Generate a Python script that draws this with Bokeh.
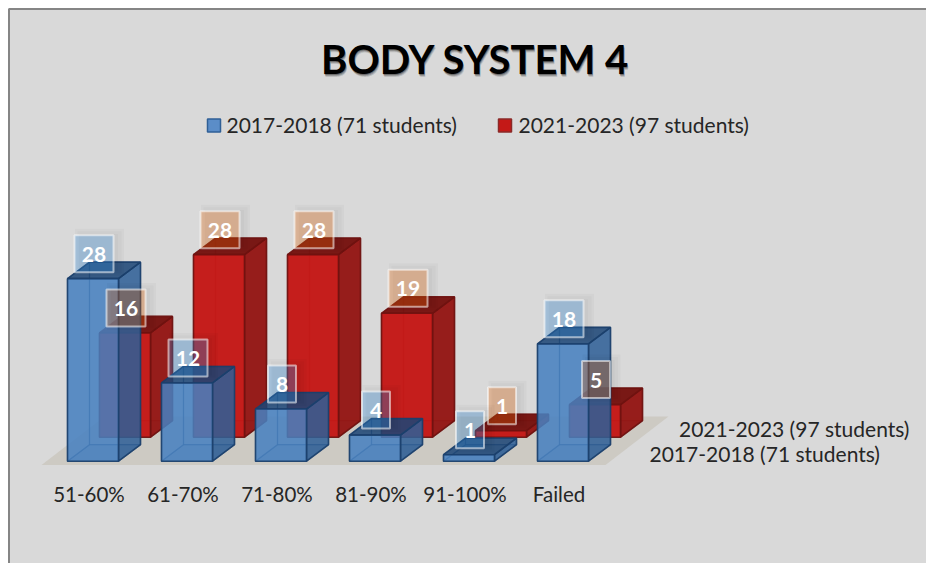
from bokeh.plotting import figure
from bokeh.embed import file_html
from bokeh.resources import INLINE
from bokeh.core.properties import value

# ---------- data ----------
title_text = "BODY SYSTEM 4"
categories = ["51-60%", "61-70%", "71-80%", "81-90%", "91-100%", "Failed"]
series_names = ["2017-2018 (71 students)", "2021-2023 (97 students)"]
values_2017 = [28, 12, 8, 4, 1, 18]
values_2021 = [16, 28, 28, 19, 1, 5]

# ---------- layout (page px) ----------
W, H = 926, 563
PAGE = 0
FRAME = 8
PX_PER_CAT = 94.0
PX_PER_VAL = 6.52
ORIGIN_X = 67.0       # left of first front-row bar
ORIGIN_Y = 460.7      # baseline of the front row
BAR_W = 51.0
DEPTH_X, DEPTH_Y = 22.0, 16.5
ROW_X, ROW_Y = 32.0, 24.0
FONT = "Lato"
INK = "#262626"

x0 = (PAGE - ORIGIN_X) / PX_PER_CAT
x1 = (PAGE + W - ORIGIN_X) / PX_PER_CAT
y0 = (ORIGIN_Y - (PAGE + H)) / PX_PER_VAL
y1 = (ORIGIN_Y - PAGE) / PX_PER_VAL

p = figure(width=W, height=H, x_range=(x0, x1), y_range=(y0, y1),
           output_backend="svg", toolbar_location=None, min_border=0,
           background_fill_color="#ffffff", border_fill_color="#ffffff",
           outline_line_color=None)
p.axis.visible = False
p.grid.visible = False


def sx(px):
    return (px - ORIGIN_X) / PX_PER_CAT


def sy(py):
    return (ORIGIN_Y - py) / PX_PER_VAL


dx = lambda px: px / PX_PER_CAT
dy = lambda px: px / PX_PER_VAL

# chart area, with frame on its top and left edges (the rest runs off the picture)
p.quad(left=[sx(FRAME)], right=[x1], top=[sy(FRAME)], bottom=[y0],
       fill_color="#d9d9d9", line_color=None)
p.line([sx(FRAME + 0.5)] * 2 + [x1], [y0, sy(FRAME + 0.5), sy(FRAME + 0.5)],
       line_color="#858585", line_width=2)

# floor
fl = sx(41)
fr = sx(605)
fb = sy(464.6)
ft = sy(416)
p.patch([fl, fr, fr + dx(63), fl + dx(63)], [fb, fb, ft, ft],
        fill_color="#cdcac3", line_color=None)


def box(i, v, row):
    """Return the faces of one 3-D bar as (xs, ys) in data units."""
    l = i + dx(ROW_X) * row
    r = l + dx(BAR_W)
    b = dy(ROW_Y) * row
    t = b + v
    ox, oy = dx(DEPTH_X), dy(DEPTH_Y)
    return dict(
        back=([l + ox, r + ox, r + ox, l + ox], [b + oy, b + oy, t + oy, t + oy]),
        left=([l, l + ox, l + ox, l], [b, b + oy, t + oy, t]),
        bottom=([l, r, r + ox, l + ox], [b, b, b + oy, b + oy]),
        right=([r, r + ox, r + ox, r], [b, b + oy, t + oy, t]),
        top=([l, r, r + ox, l + ox], [t, t, t + oy, t + oy]),
        front=([l, r, r, l], [b, b, t, t]),
    )


def draw_row(vals, row, front, side, top, edge, alpha, inner):
    for i, v in enumerate(vals):
        f = box(i, v, row)
        for name in ("back", "left"):
            p.patch(*f[name], fill_color=front, fill_alpha=inner,
                    line_color=edge, line_alpha=0.5, line_width=1.2)
        p.patch(*f["bottom"], fill_color=top, fill_alpha=inner + 0.1,
                line_color=edge, line_alpha=0.5, line_width=1.2)
        p.patch(*f["right"], fill_color=side, fill_alpha=alpha,
                line_color=edge, line_alpha=0.9, line_width=1.6)
        p.patch(*f["top"], fill_color=top, fill_alpha=alpha,
                line_color=edge, line_alpha=0.9, line_width=1.6)
        p.patch(*f["front"], fill_color=front, fill_alpha=alpha,
                line_color=edge, line_alpha=0.9, line_width=1.6)


draw_row(values_2021, 1, "#c41917", "#941816", "#761310", "#6e1210", 0.97, 0.15)
draw_row(values_2017, 0, "#4680c0", "#2f5f96", "#1c4576", "#1b3f6c", 0.85, 0.1)


def data_labels(vals, row, fill):
    for i, v in enumerate(vals):
        cx = i + dx(ROW_X) * row + dx(27)
        cy = dy(ROW_Y) * row + v + dy(25)
        w = 39 if v >= 10 else 28
        for grow, off in ((10, 5), (5, 5), (0, 4)):
            p.rect([cx + dx(off)], [cy + dy(off * 0.3)], width=dx(w + grow),
                   height=dy(37 + grow), fill_color="#000000", fill_alpha=0.025,
                   line_color=None)
        p.rect([cx - dx(0.5)], [cy], width=dx(w), height=dy(37), fill_color=fill,
               fill_alpha=0.3, line_color="#ffffff", line_alpha=0.55, line_width=2)
        p.text([cx - dx(0.5)], [cy - dy(0.5)], text=[str(v)], text_color="#ffffff",
               text_font=value(FONT), text_font_style="bold", text_font_size="21px",
               text_align="center", text_baseline="middle")


data_labels(values_2021, 1, "#f06b0a")
data_labels(values_2017, 0, "#3593e3")

# category labels
for i, c in enumerate(categories):
    p.text([i + dx(21.5)], [sy(493.5)], text=[c], text_color=INK, text_font=value(FONT),
           text_font_size="20.5px", text_align="center", text_baseline="middle")

# series (depth axis) labels
p.text([sx(649)], [sy(452.5)], text=[series_names[0]], text_color=INK, text_font=value(FONT),
       text_font_size="21px", text_align="left", text_baseline="middle")
p.text([sx(678.5)], [sy(427.5)], text=[series_names[1]], text_color=INK, text_font=value(FONT),
       text_font_size="21px", text_align="left", text_baseline="middle")

# title with soft shadow
for off, a in ((3, 0.12), (2, 0.2), (1, 0.3)):
    p.text([sx(475 + off * 0.4)], [sy(58.5 + off)], text=[title_text], text_color="#000000",
           text_alpha=a, text_font=value(FONT), text_font_style="bold",
           text_font_size="40px", text_align="center", text_baseline="middle")
p.text([sx(475)], [sy(58.5)], text=[title_text], text_color="#000000",
       text_font=value(FONT), text_font_style="bold", text_font_size="40px",
       text_align="center", text_baseline="middle")

# legend
for name, fill, edge, sw, tx in ((series_names[0], "#5b8dc8", "#2f5f96", 213.5, 226),
                                 (series_names[1], "#c41917", "#8a2a28", 504.5, 518)):
    p.rect([sx(sw)], [sy(125)], width=dx(13), height=dy(13), fill_color=fill,
           line_color=edge, line_width=1.5)
    p.text([sx(tx)], [sy(124)], text=[name], text_color=INK, text_font=value(FONT),
           text_font_size="21px", text_align="left", text_baseline="middle")

open("out.html", "w").write(file_html(p, INLINE))
